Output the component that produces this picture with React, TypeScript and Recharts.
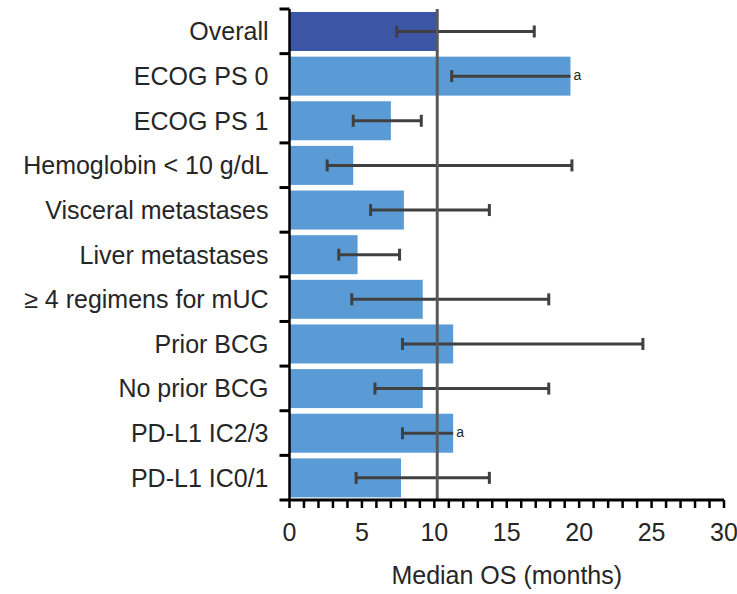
import React from 'react';
import { BarChart, Bar, XAxis, YAxis, ReferenceLine } from 'recharts';

const categories = [
  'Overall',
  'ECOG PS 0',
  'ECOG PS 1',
  'Hemoglobin < 10 g/dL',
  'Visceral metastases',
  'Liver metastases',
  '≥ 4 regimens for mUC',
  'Prior BCG',
  'No prior BCG',
  'PD-L1 IC2/3',
  'PD-L1 IC0/1',
];
const medianOS = [10.2, 19.4, 7.0, 4.4, 7.9, 4.7, 9.2, 11.3, 9.2, 11.3, 7.7];
const ciLow = [7.4, 11.2, 4.4, 2.6, 5.6, 3.4, 4.3, 7.8, 5.9, 7.8, 4.6];
// null = upper bound not estimable
const ciHigh: (number | null)[] = [16.9, null, 9.1, 19.5, 13.8, 7.6, 17.9, 24.4, 17.9, null, 13.8];
const xTicks = [0, 1, 2, 3, 4, 5, 6, 7, 8, 9, 10, 11, 12, 13, 14, 15, 16, 17, 18, 19, 20, 21, 22, 23, 24, 25, 26, 27, 28, 29, 30];
const labeledTicks = [0, 5, 10, 15, 20, 25, 30];
const overallMedian = 10.2;

const data = categories.map((name, i) => ({
  name,
  median: medianOS[i],
  low: ciLow[i],
  high: ciHigh[i],
}));

const FONT = '"Liberation Sans", Arial, sans-serif';
const TEXT = '#262626';
const ERR = '#404040';

const BarWithError = (props: any) => {
  const { x, y, width, height, payload, index } = props;
  const k = width / payload.median;
  const cy = y + height / 2;
  const xl = x + payload.low * k;
  const xh = payload.high == null ? x + width : x + payload.high * k;
  return (
    <g>
      <rect x={x} y={y} width={width} height={height} fill={index === 0 ? '#3C55A4' : '#5B9BD5'} />
      <line x1={xl} x2={xh} y1={cy} y2={cy} stroke={ERR} strokeWidth={3} />
      <line x1={xl} x2={xl} y1={cy - 6} y2={cy + 6} stroke={ERR} strokeWidth={3} />
      {payload.high != null ? (
        <line x1={xh} x2={xh} y1={cy - 6} y2={cy + 6} stroke={ERR} strokeWidth={3} />
      ) : (
        <text x={xh + 3} y={cy + 4} fontSize={14} fontFamily={FONT} fill={TEXT}>a</text>
      )}
    </g>
  );
};

const YTick = (props: any) => {
  const { x, y, payload, index } = props;
  const half = payload.offset || 22.3;
  const ax = 289.5;
  return (
    <g>
      <line x1={ax - 10} x2={ax} y1={y - half} y2={y - half} stroke="#000" strokeWidth={3} />
      {index === categories.length - 1 && (
        <line x1={ax - 10} x2={ax} y1={y + half} y2={y + half} stroke="#000" strokeWidth={3} />
      )}
      <text x={x} y={y + 9} textAnchor="end" fontSize={25} fontFamily={FONT} fill={TEXT}>
        {payload.value}
      </text>
    </g>
  );
};

const XTick = (props: any) => {
  const { x, y, payload } = props;
  if (!labeledTicks.includes(payload.value)) return null;
  return (
    <text x={x} y={y + 31} textAnchor="middle" fontSize={25} fontFamily={FONT} fill={TEXT}>
      {payload.value}
    </text>
  );
};

export default function App() {
  return (
    <div style={{ position: 'absolute', left: 0, top: 0, background: '#fff' }}>
      <BarChart
        width={737}
        height={594}
        data={data}
        layout="vertical"
        margin={{ top: 9, right: 13, bottom: 0, left: 0 }}
        barCategoryGap={3}
      >
        <XAxis
          type="number"
          domain={[0, 30]}
          ticks={xTicks}
          interval={0}
          height={94}
          axisLine={{ stroke: '#000', strokeWidth: 3 }}
          tickLine={{ stroke: '#000', strokeWidth: 2.5 }}
          tickSize={8}
          tick={<XTick />}
          label={{ value: 'Median OS (months)', position: 'insideBottom', offset: 10, fontSize: 25, fontFamily: FONT, fill: TEXT }}
        />
        <YAxis
          type="category"
          dataKey="name"
          width={289.5}
          interval={0}
          axisLine={{ stroke: '#000', strokeWidth: 2.5 }}
          tickLine={false}
          tickSize={10}
          tickMargin={11}
          tick={<YTick />}
        />
        <Bar dataKey="median" shape={<BarWithError />} isAnimationActive={false} />
        <ReferenceLine x={overallMedian} stroke="#595959" strokeWidth={3} />
      </BarChart>
    </div>
  );
}
